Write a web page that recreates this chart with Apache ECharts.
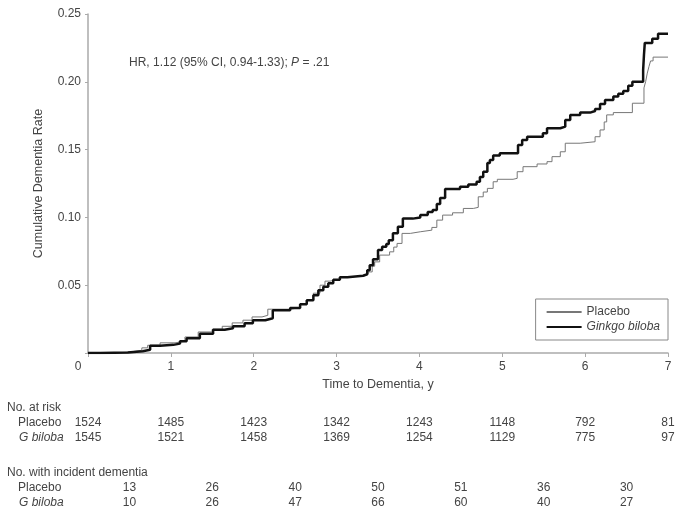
<!DOCTYPE html>
<html>
<head>
<meta charset="utf-8">
<script src="https://cdn.jsdelivr.net/npm/echarts@6/dist/echarts.min.js"></script>
<style>
html,body{margin:0;padding:0;background:#fff;}
#c{width:684px;height:515px;}
</style>
</head>
<body>
<div id="c"></div>
<script>
// ---- data ----
const yearTicks = [0, 1, 2, 3, 4, 5, 6, 7];
const atRiskPlacebo = [1524, 1485, 1423, 1342, 1243, 1148, 792, 81];
const atRiskGinkgo = [1545, 1521, 1458, 1369, 1254, 1129, 775, 97];
const incidentPlacebo = [13, 26, 40, 50, 51, 36, 30];
const incidentGinkgo = [10, 26, 47, 66, 60, 40, 27];

const ginkgoT = [0, 0.15, 0.48, 0.66, 0.75, 0.87, 1.03, 1.11, 1.19, 1.35, 1.51, 1.65, 1.75, 1.89, 1.99, 2.14, 2.23, 2.44, 2.56, 2.64, 2.72, 2.78, 2.84, 2.90, 2.96, 3.04, 3.13, 3.32, 3.37, 3.40, 3.44, 3.50, 3.55, 3.60, 3.63, 3.68, 3.74, 3.80, 3.92, 4.01, 4.10, 4.16, 4.21, 4.25, 4.31, 4.49, 4.59, 4.69, 4.73, 4.77, 4.82, 4.85, 4.89, 4.97, 5.19, 5.24, 5.30, 5.49, 5.54, 5.70, 5.76, 5.82, 5.94, 6.06, 6.12, 6.18, 6.24, 6.34, 6.40, 6.46, 6.52, 6.57, 6.70, 6.71, 6.72, 6.81, 6.88, 7.0];
const ginkgoV = [0, 0.0003, 0.0013, 0.0024, 0.0053, 0.0060, 0.0069, 0.0086, 0.0109, 0.0142, 0.0171, 0.0182, 0.0197, 0.0219, 0.0242, 0.0256, 0.0315, 0.0332, 0.0360, 0.0389, 0.0426, 0.0463, 0.0489, 0.0515, 0.0541, 0.0559, 0.0570, 0.0581, 0.0611, 0.0648, 0.0692, 0.0759, 0.0783, 0.0803, 0.0832, 0.0884, 0.0931, 0.0991, 0.1000, 0.1017, 0.1039, 0.1054, 0.1098, 0.1143, 0.1209, 0.1226, 0.1242, 0.1263, 0.1298, 0.1337, 0.1401, 0.1423, 0.1456, 0.1473, 0.1534, 0.1571, 0.1595, 0.1620, 0.1657, 0.1669, 0.1719, 0.1756, 0.1773, 0.1785, 0.1800, 0.1837, 0.1866, 0.1891, 0.1911, 0.1933, 0.1970, 0.2001, 0.2088, 0.2199, 0.2287, 0.2317, 0.2354, 0.2354];

const placeboT = [0, 0.21, 0.48, 0.57, 0.65, 0.72, 0.87, 1.05, 1.17, 1.33, 1.50, 1.62, 1.74, 1.87, 1.98, 2.10, 2.17, 2.44, 2.56, 2.64, 2.72, 2.80, 2.86, 2.92, 3.04, 3.13, 3.34, 3.38, 3.43, 3.46, 3.52, 3.64, 3.69, 3.73, 3.79, 3.89, 4.01, 4.15, 4.21, 4.28, 4.40, 4.53, 4.65, 4.71, 4.77, 4.82, 4.89, 4.94, 5.13, 5.18, 5.25, 5.42, 5.54, 5.60, 5.70, 5.76, 5.94, 6.12, 6.18, 6.23, 6.26, 6.34, 6.57, 6.71, 6.73, 6.75, 6.77, 6.79, 6.82, 7.0];
const placeboV = [0, 0.0005, 0.0013, 0.0020, 0.0038, 0.0057, 0.0075, 0.0086, 0.0118, 0.0155, 0.0175, 0.0197, 0.0222, 0.0242, 0.0266, 0.0278, 0.0323, 0.0334, 0.0360, 0.0389, 0.0441, 0.0500, 0.0530, 0.0544, 0.0559, 0.0570, 0.0581, 0.0598, 0.0640, 0.0672, 0.0722, 0.0746, 0.0781, 0.0808, 0.0882, 0.0894, 0.0906, 0.0926, 0.0980, 0.1017, 0.1034, 0.1066, 0.1074, 0.1152, 0.1187, 0.1214, 0.1263, 0.1281, 0.1288, 0.1337, 0.1374, 0.1394, 0.1411, 0.1448, 0.1484, 0.1547, 0.1558, 0.1595, 0.1645, 0.1704, 0.1756, 0.1773, 0.1842, 0.1955, 0.2001, 0.2064, 0.2112, 0.2154, 0.2182, 0.2182];

// ---- chart ----
const FONT = '"Liberation Sans", Arial, sans-serif';
const TXT = '#444';
const zip = (t, v) => t.map((x, i) => [x, v[i]]);

const chart = echarts.init(document.getElementById('c'), null, {renderer: 'canvas'});

function tableAxis(data, offset, gap) {
  return {
    type: 'category',
    gridIndex: 0,
    position: 'bottom',
    offset: offset,
    boundaryGap: gap,
    data: data.map(String),
    axisLine: {show: false},
    axisTick: {show: false},
    splitLine: {show: false},
    axisLabel: {interval: 0, margin: 0, color: TXT, fontSize: 12, fontFamily: FONT}
  };
}

chart.setOption({
  animation: false,
  backgroundColor: '#fff',
  textStyle: {fontFamily: FONT},
  title: {
    left: 124, top: 52,
    text: '{a|HR, 1.12 (95% CI, 0.94-1.33); }{i|P}{a| = .21}',
    textStyle: {
      fontWeight: 'normal',
      rich: {
        a: {fontSize: 12, color: TXT, fontFamily: FONT, fontWeight: 'normal'},
        i: {fontSize: 12, color: TXT, fontFamily: FONT, fontStyle: 'italic', fontWeight: 'normal'}
      }
    }
  },
  legend: {
    orient: 'vertical',
    right: 16, top: 299,
    padding: [7, 8, 7, 10],
    itemWidth: 35, itemHeight: 12, itemGap: 3,
    borderColor: '#888', borderWidth: 1,
    itemStyle: {opacity: 0},
    textStyle: {color: TXT, fontSize: 12, fontFamily: FONT},
    data: [{name: 'Placebo'}, {name: 'Ginkgo biloba', textStyle: {fontStyle: 'italic'}}]
  },
  grid: {left: 88, right: 16, top: 14, bottom: 162, containLabel: false},
  xAxis: [
    {
      type: 'value', min: 0, max: 7, interval: 1,
      name: 'Time to Dementia, y', nameLocation: 'middle', nameGap: 24,
      nameTextStyle: {color: TXT, fontSize: 12.5, fontFamily: FONT},
      axisLine: {lineStyle: {color: '#aaa', width: 1.5}},
      axisTick: {length: 4, lineStyle: {color: '#aaa'}},
      splitLine: {show: false},
      axisLabel: {
        margin: 8, color: TXT, fontSize: 12, fontFamily: FONT,
        formatter: v => v === 0 ? '{z|0}' : String(v),
        rich: {z: {padding: [0, 20, 0, 0], color: TXT, fontSize: 12, fontFamily: FONT}}
      }
    },
    tableAxis(atRiskPlacebo, 64, false),
    tableAxis(atRiskGinkgo, 79, false),
    tableAxis(incidentPlacebo, 129, true),
    tableAxis(incidentGinkgo, 144, true)
  ],
  yAxis: {
    type: 'value', min: 0, max: 0.25, interval: 0.05,
    name: 'Cumulative Dementia Rate', nameLocation: 'middle', nameGap: 43,
    nameTextStyle: {color: TXT, fontSize: 12.5, fontFamily: FONT},
    axisLine: {show: true, lineStyle: {color: '#aaa', width: 1.5}},
    axisTick: {show: true, length: 3, lineStyle: {color: '#aaa'}},
    splitLine: {show: false},
    axisLabel: {
      margin: 7, color: TXT, fontSize: 12, fontFamily: FONT,
      formatter: v => v === 0 ? '' : v.toFixed(2)
    }
  },
  graphic: [
    {type: 'text', left: 7, top: 402, style: {text: 'No. at risk', fill: TXT, font: '12px ' + FONT}},
    {type: 'text', left: 18, top: 417, style: {text: 'Placebo', fill: TXT, font: '12px ' + FONT}},
    {type: 'text', left: 19, top: 432, style: {text: 'G biloba', fill: TXT, font: 'italic 12px ' + FONT}},
    {type: 'text', left: 7, top: 467, style: {text: 'No. with incident dementia', fill: TXT, font: '12px ' + FONT}},
    {type: 'text', left: 18, top: 482, style: {text: 'Placebo', fill: TXT, font: '12px ' + FONT}},
    {type: 'text', left: 19, top: 497, style: {text: 'G biloba', fill: TXT, font: 'italic 12px ' + FONT}}
  ],
  series: [
    {
      name: 'Placebo', type: 'line', step: 'end', symbol: 'none',
      xAxisIndex: 0,
      lineStyle: {color: '#777', width: 1},
      itemStyle: {color: '#777'},
      data: zip(placeboT, placeboV),
      z: 2
    },
    {
      name: 'Ginkgo biloba', type: 'line', step: 'end', symbol: 'none',
      xAxisIndex: 0,
      lineStyle: {color: '#111', width: 2.5},
      itemStyle: {color: '#111'},
      data: zip(ginkgoT, ginkgoV),
      z: 3
    }
  ]
});
</script>
</body>
</html>
